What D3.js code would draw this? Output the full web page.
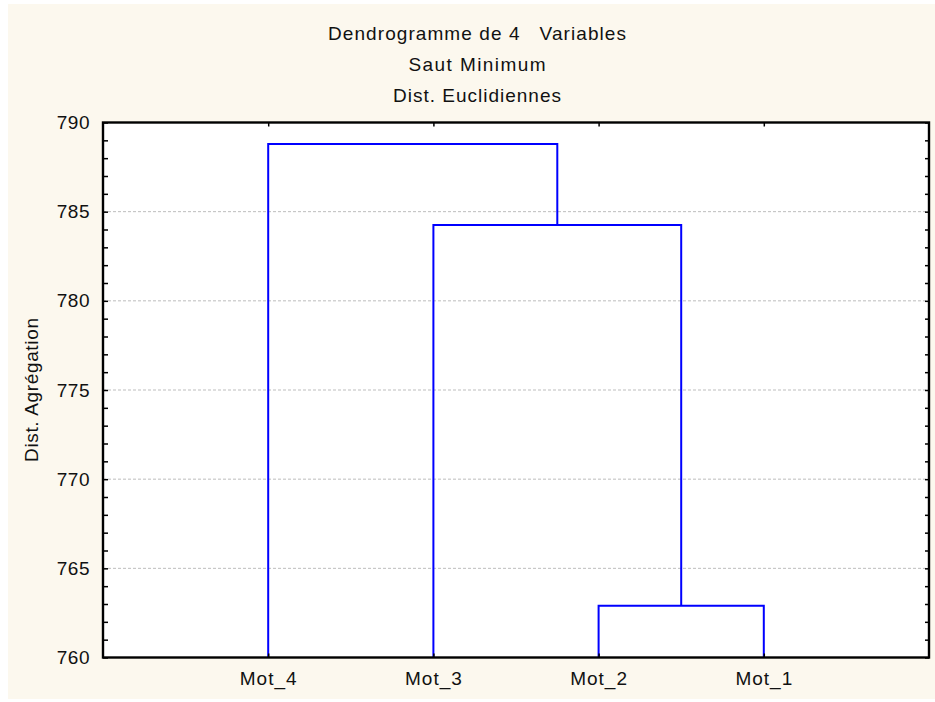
<!DOCTYPE html>
<html>
<head>
<meta charset="utf-8">
<script src="https://cdn.jsdelivr.net/npm/d3@7"></script>
<style>
  body { margin: 0; background: #ffffff; }
  svg text { font-family: "Liberation Sans", Arial, sans-serif; fill: #111; }
  .title { white-space: pre; }
</style>
</head>
<body>
<div id="chart"></div>
<script>
// leaves in display order
var leaves = ["Mot_4", "Mot_3", "Mot_2", "Mot_1"];
// merges (single linkage), in order of aggregation
var mergeLeft = ["Mot_2", "Mot_3", "Mot_4"];
var mergeRight = ["Mot_1", "C1", "C2"];
var mergeName = ["C1", "C2", "C3"];
var mergeHeight = [762.9, 784.25, 788.8];
var yTicks = [760, 765, 770, 775, 780, 785, 790];
var titles = ["Dendrogramme de 4   Variables", "Saut Minimum", "Dist. Euclidiennes"];
var yLabel = "Dist. Agrégation";

var W = 935, H = 702;
var margin = {top: 122.5, left: 103, right: 6, bottom: 44};
var width = W - margin.left - margin.right;
var height = H - margin.top - margin.bottom - 0.5;

var svg = d3.select("#chart").append("svg")
    .attr("width", W)
    .attr("height", H);

// cream background
svg.append("rect")
    .attr("x", 8).attr("y", 4)
    .attr("width", W - 8).attr("height", 695)
    .attr("fill", "#fcf8ee");

// titles
var titleY = [39.5, 70.5, 102];
var titleW = [298, 137, 168];
titles.forEach(function(t, i) {
    svg.append("text")
        .attr("class", "title")
        .attr("x", 477)
        .attr("y", titleY[i])
        .attr("text-anchor", "middle")
        .style("font-size", "19px")
        .attr("textLength", titleW[i])
        .attr("lengthAdjust", "spacing")
        .text(t);
});

var g = svg.append("g")
    .attr("transform", "translate(" + margin.left + "," + margin.top + ")");

g.append("rect")
    .attr("width", width).attr("height", height)
    .attr("fill", "#ffffff");

var x = d3.scalePoint()
    .domain(leaves)
    .range([0, width])
    .padding(1);

var y = d3.scaleLinear()
    .domain([760, 790])
    .range([height, 0]);

// grid lines
g.selectAll(".grid")
    .data(yTicks.filter(function(d) { return d > 760 && d < 790; }))
    .enter().append("line")
    .attr("class", "grid")
    .attr("x1", 0).attr("x2", width)
    .attr("y1", function(d) { return y(d); })
    .attr("y2", function(d) { return y(d); })
    .attr("stroke", "#bdbdbd")
    .attr("stroke-width", 1)
    .attr("stroke-dasharray", "3,2");

// dendrogram
var pos = {};
leaves.forEach(function(l) { pos[l] = {x: x(l), h: 760}; });
var links = [];
for (var i = 0; i < mergeName.length; i++) {
    var a = pos[mergeLeft[i]], b = pos[mergeRight[i]];
    var left = a.x < b.x ? a : b, right = a.x < b.x ? b : a;
    links.push({l: left, r: right, h: mergeHeight[i]});
    pos[mergeName[i]] = {x: (a.x + b.x) / 2, h: mergeHeight[i]};
}

g.selectAll(".link")
    .data(links)
    .enter().append("path")
    .attr("class", "link")
    .attr("fill", "none")
    .attr("stroke", "#0000ff")
    .attr("stroke-width", 2)
    .attr("d", function(d) {
        return "M" + d.l.x + "," + y(d.l.h) +
               "V" + y(d.h) +
               "H" + d.r.x +
               "V" + y(d.r.h);
    });

var minor = d3.range(760, 791, 1);

// left axis
var yAxis = g.append("g")
    .attr("class", "axis axis--y")
    .call(d3.axisLeft(y)
        .tickValues(minor)
        .tickSize(-5)
        .tickPadding(13)
        .tickFormat(function(d) { return d % 5 === 0 ? d : ""; }));
yAxis.selectAll("text")
    .style("font-size", "19px")
    .attr("letter-spacing", "0.5px")
    .attr("fill", "#111");

// right axis
g.append("g")
    .attr("class", "axis")
    .attr("transform", "translate(" + width + ",0)")
    .call(d3.axisRight(y).tickValues(minor).tickSize(-4).tickFormat(""));

// top axis
g.append("g")
    .attr("class", "axis")
    .call(d3.axisTop(x).tickSize(-4).tickFormat(""));

// bottom axis
var xAxis = g.append("g")
    .attr("class", "axis axis--x")
    .attr("transform", "translate(0," + height + ")")
    .call(d3.axisBottom(x).tickSize(-4).tickPadding(14));
xAxis.selectAll("text")
    .style("font-size", "19px")
    .attr("letter-spacing", "1px")
    .attr("fill", "#111");

g.selectAll(".axis path")
    .attr("stroke", "#000")
    .attr("stroke-width", 2.2);
g.selectAll(".axis line")
    .attr("stroke", "#000")
    .attr("stroke-width", 1.5);
g.selectAll(".axis .domain")
    .attr("d", null);

// frame
g.append("rect")
    .attr("width", width).attr("height", height)
    .attr("fill", "none")
    .attr("stroke", "#000")
    .attr("stroke-width", 2.4);

// y label
svg.append("text")
    .attr("transform", "translate(38," + (margin.top + height / 2) + ")rotate(-90)")
    .attr("text-anchor", "middle")
    .style("font-size", "19px")
    .attr("textLength", 144)
    .attr("lengthAdjust", "spacing")
    .text(yLabel);
</script>
</body>
</html>
